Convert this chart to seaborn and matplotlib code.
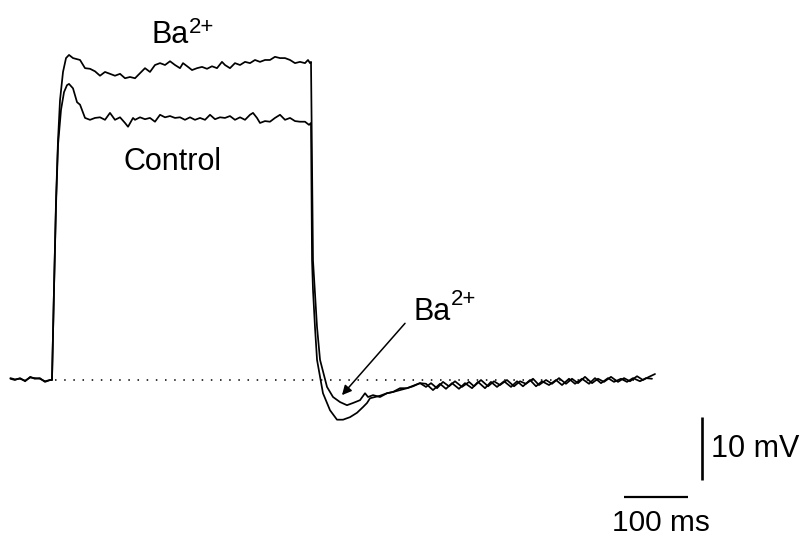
import matplotlib
matplotlib.use("Agg")
import matplotlib.pyplot as plt
import seaborn as sns

# Membrane potential response to a current step (time in ms, voltage in mV)
ba_time = [-65, -58, -50, -42, -34, -27, -19, -11, -3,
           0, 3.1, 6.3, 9.4, 12.5, 17.2, 21.9, 26.6,
           32.8, 43.8, 51.6, 59.4, 67.2, 75.0, 82.8, 90.6, 98.4, 106.3, 114.1, 121.9, 129.7,
           137.5, 145.3, 153.1, 160.9, 168.8, 176.6, 184.4, 192.2, 200.0, 204.7, 212.5, 218.8,
           226.6, 234.4, 242.2, 250.0, 257.8, 265.6, 270.3, 278.1, 285.9, 293.8, 301.6, 309.4,
           317.2, 325.0, 332.8, 340.6, 348.4, 356.3, 364.1, 371.9, 379.7, 387.5, 395.3, 400.0,
           403.1, 404.7,
           407.8, 410.9, 414.1, 418.8, 429.7, 439.1, 450.0, 460.9, 470.3, 481.3, 489.1, 493.8,
           501.6, 512.5, 523.4, 532.8, 543.8, 554.7, 567.2, 575.0,
           584.4, 592.2, 601.6, 610.9, 620.3, 629.7, 640.6, 651.6, 659.4, 670.3, 681.3, 690.6,
           700.0, 710.9, 721.9, 731.3, 740.6, 751.6, 760.9, 771.9, 781.3, 792.2, 803.1, 812.5,
           821.9, 832.8, 843.8, 853.1, 862.5, 873.4, 884.4, 893.8, 903.1, 914.1, 923.4, 932.8,
           942.2]
ba_mv = [0.2, 0.0, 0.3, -0.2, 0.5, 0.2, 0.3, -0.3, 0.0,
         0.0, 14.3, 28.6, 38.1, 44.4, 48.9, 51.1, 51.6,
         51.1, 50.8, 49.5, 49.4, 49.0, 48.3, 48.9, 48.6, 48.3, 48.6, 47.9, 48.1, 47.9,
         48.7, 49.5, 48.9, 50.0, 50.3, 50.0, 50.6, 50.0, 49.5, 50.3, 49.7, 49.2,
         49.5, 49.7, 49.4, 49.8, 49.5, 50.5, 50.0, 49.5, 50.3, 50.0, 50.5, 50.3,
         50.8, 50.5, 50.8, 50.8, 51.3, 51.1, 51.1, 50.8, 50.3, 50.5, 50.3, 50.8,
         50.3, 50.5,
         19.0, 13.8, 8.4, 3.2, -1.1, -2.7, -3.5, -4.0, -3.65, -3.2, -2.1, -2.7,
         -2.4, -2.7, -2.1, -1.9, -1.6, -1.3, -0.8, -0.5,
         -1.1, -0.5, -1.3, -0.3, -1.0, -0.2, -1.1, -0.3, -1.0, 0.0, -1.0, -0.2,
         -0.8, 0.0, -1.0, -0.2, -0.6, 0.2, -0.8, 0.0, -0.6, 0.3, -0.6, 0.2,
         -0.5, 0.5, -0.5, 0.2, -0.3, 0.5, -0.3, 0.3, -0.2, 0.6, 0.0, 0.5,
         0.95]

ctrl_time = [-65, -58, -50, -42, -34, -27, -19, -11, -3,
             0, 3.1, 6.3, 9.4, 14.1, 18.8, 23.4, 26.6,
             32.8, 39.1, 43.8, 51.6, 59.4, 67.2, 75.0, 82.8, 90.6, 98.4, 106.3, 114.1, 118.8,
             126.6, 129.7, 137.5, 145.3, 153.1, 160.9, 168.8, 176.6, 184.4, 192.2, 200.0, 207.8,
             215.6, 223.4, 231.3, 239.1, 246.9, 254.7, 262.5, 270.3, 278.1, 285.9, 293.8, 301.6,
             309.4, 314.1, 320.3, 325.0, 332.8, 340.6, 348.4, 356.3, 364.1, 371.9, 379.7, 387.5,
             395.3, 401.6, 404.7,
             406.3, 407.8, 410.9, 414.1, 423.4, 434.4, 445.3, 454.7, 465.6, 476.6, 485.9, 492.2,
             496.9, 504.7, 512.5, 523.4, 532.8, 543.8, 554.7, 564.1, 575.0,
             584.4, 595.3, 606.3, 615.6, 625.0, 635.9, 645.3, 656.3, 665.6, 676.6, 685.9, 695.3,
             706.3, 717.2, 726.6, 735.9, 746.9, 756.3, 765.6, 776.6, 787.5, 796.9, 807.8, 817.2,
             828.1, 839.1, 848.4, 857.8, 868.8, 878.1, 889.1, 898.4, 907.8, 918.8, 928.1, 937.5]
ctrl_mv = [0.3, 0.1, 0.2, -0.1, 0.4, 0.3, 0.2, -0.2, 0.0,
           0.0, 14.3, 27.8, 37.3, 42.9, 45.7, 46.8, 47.0,
           46.3, 44.1, 43.7, 41.6, 41.3, 41.6, 41.7, 41.3, 42.4, 41.3, 41.7, 40.8, 40.2,
           41.6, 41.3, 41.7, 41.4, 41.6, 41.0, 42.1, 41.7, 41.9, 41.6, 41.7, 41.3,
           41.7, 41.3, 41.6, 41.3, 42.1, 41.4, 41.7, 41.6, 41.9, 41.3, 41.7, 41.3,
           42.1, 42.4, 41.6, 40.8, 41.1, 41.0, 41.6, 42.1, 41.3, 41.6, 41.1, 41.0,
           41.0, 40.5, 40.8,
           19.0, 14.3, 8.4, 3.2, -2.1, -4.8, -6.3, -6.3, -5.9, -5.2, -4.3, -3.65,
           -2.9, -2.7, -2.5, -2.1, -1.9, -1.3, -1.3, -1.0, -0.5,
           -0.6, -1.6, -0.6, -1.4, -0.5, -1.4, -0.5, -1.3, -0.3, -1.3, -0.3, -1.1,
           -0.2, -1.1, -0.2, -1.0, 0.0, -1.0, -0.2, -0.8, 0.0, -0.8, 0.2, -0.6,
           0.2, -0.6, 0.3, -0.5, 0.3, -0.3, 0.2, -0.3, 0.3, -0.2, 0.3, 0.2]

# Resting level reference
baseline_time = [5, 915]
baseline_mv = [0, 0]

# Scale bars
scale_ms = 100
scale_mv = 10
hbar_start = 893.75
hbar_level = -18.6
vbar_time = 1015.6
vbar_bottom = -15.9

sns.set_theme(style="white")
plt.rcParams["font.family"] = ["Liberation Sans", "DejaVu Sans"]
plt.rcParams["text.color"] = "black"

fig = plt.figure(figsize=(8.08, 5.38), dpi=100)
ax = fig.add_axes([0, 0, 1, 1])

trace_kw = dict(color="black", linewidth=1.25, sort=False, estimator=None, ax=ax)
sns.lineplot(x=ctrl_time, y=ctrl_mv, **trace_kw)
sns.lineplot(x=ba_time, y=ba_mv, **trace_kw)

ax.plot(baseline_time, baseline_mv, color="black", linewidth=1.1,
        linestyle=(0, (1, 5)))

# Scale bars
ax.plot([hbar_start, hbar_start + scale_ms], [hbar_level, hbar_level],
        color="black", linewidth=1.6, solid_capstyle="butt")
ax.plot([vbar_time, vbar_time], [vbar_bottom, vbar_bottom + scale_mv],
        color="black", linewidth=1.9, solid_capstyle="butt")
ax.text(vbar_time + 14, vbar_bottom + scale_mv / 2, f"{scale_mv} mV",
        ha="left", va="center", fontsize=22, color="black")
ax.text(hbar_start + scale_ms / 2 + 7, -24.0, f"{scale_ms} ms",
        ha="center", va="baseline", fontsize=21.5, color="black")

# Labels: ion name with superscript charge
def ion_label(x_ba, y_ba, x_sup, y_sup):
    ax.text(x_ba, y_ba, "Ba", ha="left", va="baseline", fontsize=22, color="black")
    ax.text(x_sup, y_sup, "2+", ha="left", va="baseline", fontsize=16, color="black")

ion_label(154.7, 53.5, 214.0, 55.1)
ion_label(565.6, 9.5, 623.4, 11.9)
ax.text(189, 33.3, "Control", ha="center", va="baseline", fontsize=22, color="black")

ax.annotate("", xy=(453.1, -2.4), xytext=(551.6, 9.0),
            arrowprops=dict(arrowstyle="-|>", color="black", lw=1.1,
                            mutation_scale=14, shrinkA=0, shrinkB=0))

ax.set_xlim(-81.25, 1181.25)
ax.set_ylim(-25.08, 60.32)
ax.axis("off")

fig.savefig("out.png", dpi=100)
